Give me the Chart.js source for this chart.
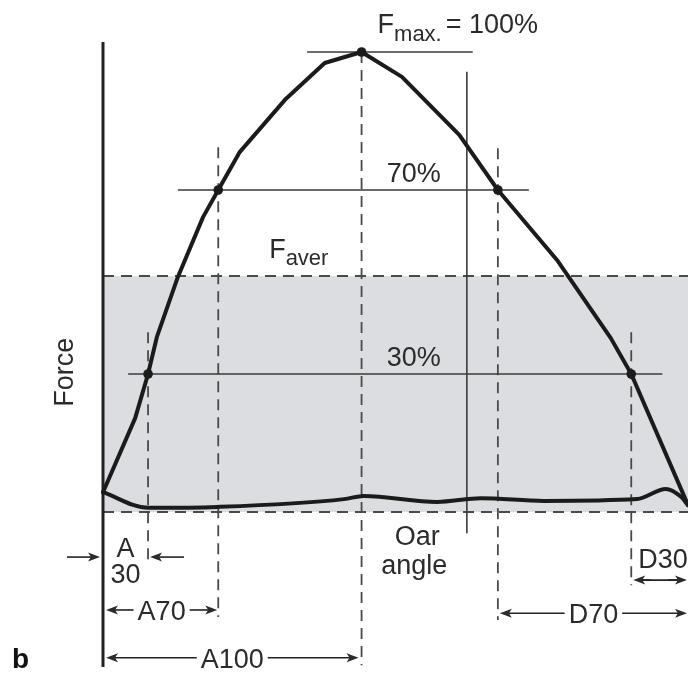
<!DOCTYPE html>
<html>
<head>
<meta charset="utf-8">
<script src="https://cdn.jsdelivr.net/npm/chart.js@4.4.1/dist/chart.umd.min.js"></script>
<style>
  html, body { margin: 0; padding: 0; background: #fff; }
  #wrap { width: 688px; height: 673px; }
</style>
</head>
<body>
<div id="wrap"><canvas id="c" width="688" height="673"></canvas></div>
<script>
// Oar angle in % of the stroke (catch = 0, finish = 100), force in % of F max.
const driveAngle = [0, 5.5, 7.7, 9.2, 12.8, 17.1, 19.7, 23.4, 31.1, 37.9, 44.2, 51.1, 60.9, 67.5, 77.6, 86.8, 90.3, 100];
const driveForce = [4.3, 20.4, 30, 38.0, 51.1, 64.1, 70, 78.3, 89.6, 97.6, 100, 94.6, 82.0, 70, 54.8, 37.8, 30, 1.5];

const recoveryAngle = [0, 7.7, 19.5, 41.2, 44.6, 57.1, 64.6, 75.4, 91.3, 96.2, 98.8, 100];
const recoveryForce = [4.3, 0.9, 1.1, 2.8, 3.5, 2.2, 3.0, 2.4, 2.8, 5.0, 3.3, 1.5];

// Points where the curve crosses 100 %, 70 % and 30 % of F max
const markerNames = ['A100', 'A70', 'D70', 'A30', 'D30'];
const markerAngle = [44.2, 19.7, 67.5, 7.7, 90.3];
const markerForce = [100, 70, 70, 30, 30];

const levelLabels = ['100%', '70%', '30%'];
const averageForce = 51.3;
const averageAngleEnd = 62.2;   // thin vertical reference line in the drive

const FONT = "'Liberation Sans', Arial, Helvetica, sans-serif";
const INK = '#1b1b1b';
const TEXT = '#2b2b2b';

const toPoints = (xs, ys) => xs.map((x, i) => ({ x, y: ys[i] }));

const diagram = {
  id: 'diagram',
  beforeDatasetsDraw(chart) {
    const { ctx } = chart;
    const X = v => chart.scales.x.getPixelForValue(v);
    const Y = v => chart.scales.y.getPixelForValue(v);
    const ang = n => markerAngle[markerNames.indexOf(n)];
    ctx.save();

    // shaded band up to the average force
    ctx.fillStyle = '#dcdde0';
    ctx.fillRect(X(0), Y(averageForce), X(100) - X(0), Y(0) - Y(averageForce));

    // dashed guides
    ctx.strokeStyle = '#4a4a4a';
    ctx.lineWidth = 1.8;
    ctx.setLineDash([11, 7]);
    const seg = (x1, y1, x2, y2) => { ctx.beginPath(); ctx.moveTo(x1, y1); ctx.lineTo(x2, y2); ctx.stroke(); };
    seg(X(0), Y(averageForce), X(100), Y(averageForce));
    seg(X(0), Y(0), X(100), Y(0));
    seg(X(ang('A30')), Y(39.1), X(ang('A30')), Y(-11.1));
    seg(X(ang('A70')), Y(79.3), X(ang('A70')), Y(-22.8));
    seg(X(ang('A100')), Y(100), X(ang('A100')), Y(-33.3));
    seg(X(ang('D70')), Y(79.1), X(ang('D70')), Y(-23.5));
    seg(X(ang('D30')), Y(39.1), X(ang('D30')), Y(-15.9));
    ctx.setLineDash([]);

    // thin solid level lines
    ctx.strokeStyle = '#3a3a3a';
    ctx.lineWidth = 1.6;
    seg(X(34.9), Y(markerForce[0]), X(63.2), Y(markerForce[0]));
    seg(X(12.8), Y(markerForce[1]), X(72.8), Y(markerForce[1]));
    seg(X(4.3), Y(markerForce[3]), X(95.6), Y(markerForce[3]));
    seg(X(averageAngleEnd), Y(95.7), X(averageAngleEnd), Y(-4.6));

    // force axis
    ctx.strokeStyle = '#222';
    ctx.lineWidth = 3;
    seg(X(0), Y(102.2), X(0), Y(-33.7));
    ctx.restore();
  },
  afterDraw(chart) {
    const { ctx } = chart;
    const X = v => chart.scales.x.getPixelForValue(v);
    const Y = v => chart.scales.y.getPixelForValue(v);
    const ang = n => markerAngle[markerNames.indexOf(n)];
    ctx.save();
    ctx.fillStyle = TEXT;
    ctx.strokeStyle = '#222';
    ctx.textBaseline = 'alphabetic';

    const font = (px, w) => (w || '') + ' ' + px + 'px ' + FONT;

    // arrow from x1 to head x2 at height y
    const arrow = (x1, x2, y) => {
      const dir = Math.sign(x2 - x1);
      ctx.lineWidth = 1.6;
      ctx.beginPath(); ctx.moveTo(x1, y); ctx.lineTo(x2 - dir * 6, y); ctx.stroke();
      ctx.beginPath();
      ctx.moveTo(x2, y);
      ctx.lineTo(x2 - dir * 12, y - 4.5);
      ctx.lineTo(x2 - dir * 9, y);
      ctx.lineTo(x2 - dir * 12, y + 4.5);
      ctx.closePath();
      ctx.fill();
    };
    // dimension with a centred label between two heads
    const dimension = (hx1, hx2, y, label) => {
      ctx.font = font(27);
      const w = ctx.measureText(label).width;
      const cx = (hx1 + hx2) / 2;
      ctx.textAlign = 'center';
      ctx.fillText(label, cx, y + 10);
      arrow(cx - w / 2 - 4, hx1, y);
      arrow(cx + w / 2 + 4, hx2, y);
    };

    // F max. = 100 %
    let x = X(ang('A100')) + 16, yb = Y(100) - 19;
    ctx.textAlign = 'left';
    ctx.font = font(27); ctx.fillText('F', x, yb);
    x += ctx.measureText('F').width;
    ctx.font = font(22); ctx.fillText('max.', x, yb + 8);
    x += ctx.measureText('max.').width + 4;
    ctx.font = font(27); ctx.fillText('= ' + levelLabels[0], x, yb);

    // 70 % and 30 %
    ctx.fillText(levelLabels[1], X(48.5), Y(markerForce[1]) - 8);
    ctx.fillText(levelLabels[2], X(48.5), Y(markerForce[3]) - 8);

    // F aver
    x = X(28.4); yb = Y(averageForce) - 18;
    ctx.fillText('F', x, yb);
    x += ctx.measureText('F').width;
    ctx.font = font(22); ctx.fillText('aver', x, yb + 7);

    // axis titles
    ctx.font = font(27);
    ctx.save();
    ctx.translate(X(0) - 30, Y(30.4));
    ctx.rotate(-Math.PI / 2);
    ctx.textAlign = 'center';
    ctx.fillText('Force', 0, 0);
    ctx.restore();

    const oarX = (X(ang('A100')) + X(averageAngleEnd)) / 2;
    ctx.textAlign = 'center';
    ctx.fillText('Oar', oarX + 3, Y(0) + 33);
    ctx.fillText('angle', oarX, Y(0) + 62);

    // A30
    const a30y = Y(-9.8);
    ctx.fillText('A', (X(0) + X(ang('A30'))) / 2, a30y);
    ctx.fillText('30', (X(0) + X(ang('A30'))) / 2, a30y + 26);
    arrow(X(0) - 36, X(0) - 3, a30y);
    arrow(X(ang('A30')) + 36, X(ang('A30')) + 2, a30y);

    // A70, A100, D70
    dimension(X(0) + 3, X(ang('A70')) - 1, Y(-21.3), 'A70');
    dimension(X(0) + 3, X(ang('A100')) - 3, Y(-31.7), 'A100');
    dimension(X(ang('D70')) + 2, X(100) - 1, Y(-22.0), 'D70');

    // D30
    ctx.textAlign = 'left';
    ctx.fillText('D30', X(ang('D30')) + 7, Y(-10.0) + 10);
    const d30y = Y(-14.8);
    ctx.lineWidth = 1.6;
    ctx.beginPath(); ctx.moveTo(X(ang('D30')) + 8, d30y); ctx.lineTo(X(100) - 6, d30y); ctx.stroke();
    arrow(X(ang('D30')) + 20, X(ang('D30')) + 2, d30y);
    arrow(X(100) - 20, X(100) - 1, d30y);

    // panel letter
    ctx.textAlign = 'left';
    ctx.font = font(28, 'bold');
    ctx.fillStyle = '#111';
    ctx.fillText('b', 12, 668);
    ctx.restore();
  }
};

new Chart(document.getElementById('c').getContext('2d'), {
  type: 'scatter',
  data: {
    datasets: [
      {
        label: 'Key points',
        data: toPoints(markerAngle, markerForce),
        pointRadius: 4.8,
        pointBackgroundColor: INK,
        pointBorderWidth: 0,
        showLine: false,
        clip: false
      },
      {
        label: 'Drive',
        data: toPoints(driveAngle, driveForce),
        showLine: true,
        borderColor: INK,
        borderWidth: 4,
        borderJoinStyle: 'round',
        borderCapStyle: 'round',
        pointRadius: 0,
        tension: 0,
        clip: false
      },
      {
        label: 'Recovery',
        data: toPoints(recoveryAngle, recoveryForce),
        showLine: true,
        borderColor: INK,
        borderWidth: 4,
        borderJoinStyle: 'round',
        borderCapStyle: 'round',
        pointRadius: 0,
        cubicInterpolationMode: 'monotone',
        clip: false
      }
    ]
  },
  options: {
    responsive: false,
    animation: false,
    events: [],
    layout: { autoPadding: false, padding: { left: 103, right: 0, top: 52, bottom: 161 } },
    scales: {
      x: { type: 'linear', min: 0, max: 100, display: false },
      y: { type: 'linear', min: 0, max: 100, display: false }
    },
    plugins: { legend: { display: false }, tooltip: { enabled: false } }
  },
  plugins: [diagram]
});
</script>
</body>
</html>
